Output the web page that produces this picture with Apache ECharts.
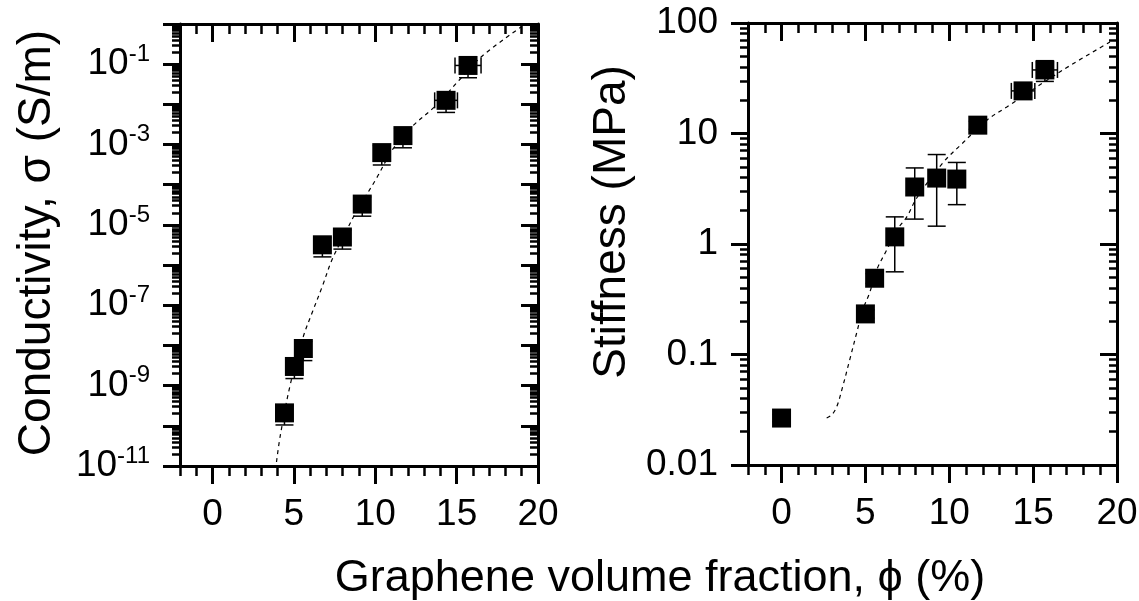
<!DOCTYPE html>
<html>
<head>
<meta charset="utf-8">
<script src="https://cdn.jsdelivr.net/npm/echarts@6/dist/echarts.min.js"></script>
<style>
  html, body { margin: 0; padding: 0; background: #fff; }
  #chart { width: 1139px; height: 601px; }
</style>
</head>
<body>
<div id="chart"></div>
<script>
// left panel: conductivity vs graphene fraction
const condPhi = [4.42, 5.03, 5.58, 6.75, 7.98, 9.2, 10.4, 11.7, 14.35, 15.7]
const condSigma = [2.1e-10, 3.0e-9, 8.4e-9, 3.2e-6, 5.0e-6, 3.3e-5, 6.3e-4, 1.67e-3, 1.26e-2, 9.3e-2]
const condPhiErr = [0.25, 0.25, 0.25, 0.3, 0.3, 0.3, 0.3, 0.4, 0.7, 0.8]
const condSigmaErr = [1.05e-10, 1.5e-9, 4.2e-9, 1.6e-6, 2.5e-6, 1.65e-5, 3.2e-4, 8.4e-4, 6.3e-3, 4.7e-2]
const condFitPhi = [3.93, 4.17, 4.79, 5.58, 6.13, 6.75, 7.36, 8.28, 8.83, 10.06, 11.1, 12.27, 13.74, 15.15, 16.56, 18.96]
const condFitSigma = [1.26e-11, 5.96e-11, 1.12e-9, 1.68e-8, 6.68e-8, 2.99e-7, 1.41e-6, 7.94e-6, 2.11e-5, 1.41e-4, 7.9e-4, 2.82e-3, 9.44e-3, 3.98e-2, 0.158, 0.841]

// right panel: stiffness vs graphene fraction
const stiffPhi = [0, 5.0, 5.55, 6.75, 7.94, 9.25, 10.45, 11.7, 14.4, 15.7]
const stiffMod = [0.0266, 0.233, 0.49, 1.16, 3.28, 3.95, 3.87, 11.9, 24.3, 37.6]
const stiffPhiErr = [0.1, 0.2, 0.2, 0.2, 0.2, 0.2, 0.2, 0.3, 0.7, 0.75]
const stiffModErr = [0.002, 0.02, 0.05, 0.6, 1.6, 2.5, 1.6, 1.0, 3.0, 8.0]
const stiffFitPhi = [2.69, 3.0, 3.3, 3.64, 4.06, 4.48, 4.84, 5.25, 5.67, 6.27, 6.87, 7.46, 8.06, 9.61, 10.8, 12.24, 13.43, 16.78, 19.58]
const stiffFitMod = [0.0266, 0.0285, 0.034, 0.0508, 0.0891, 0.157, 0.253, 0.361, 0.582, 0.883, 1.34, 1.75, 2.61, 5.41, 8.2, 13.2, 17.4, 37.6, 67.3]

// ticks
const phiMajor = [0, 5, 10, 15, 20]
const phiMinor = [-2, -1, 1, 2, 3, 4, 6, 7, 8, 9, 11, 12, 13, 14, 16, 17, 18, 19]
const condDecades = [-11, -10, -9, -8, -7, -6, -5, -4, -3, -2, -1, 0]
const condLabelExps = [-11, -9, -7, -5, -3, -1]
const stiffTicks = [0.01, 0.1, 1, 10, 100]
const stiffTickLabels = ['0.01', '0.1', '1', '10', '100']

const FONT = 'Liberation Sans, Arial, sans-serif'

const condMajor = condDecades.map((e) => Math.pow(10, e))
const condLabelVals = condLabelExps.map((e) => Math.pow(10, e))
const logMinor = (decades) => {
  const out = []
  decades.slice(0, -1).forEach((e) => {
    for (let m = 2; m <= 9; m++) out.push(m * Math.pow(10, e))
  })
  return out
}
const condMinor = logMinor(condDecades)
const stiffMinor = logMinor(stiffTicks.map((v) => Math.round(Math.log10(v))))

const tick = (len, width, inside, values) => ({
  show: true,
  inside,
  length: len,
  customValues: values,
  lineStyle: { color: '#000', width }
})

function xAxes(gridIndex) {
  const base = {
    gridIndex,
    type: 'value',
    min: -2,
    max: 20,
    splitLine: { show: false },
    axisLine: { show: false, onZero: false }
  }
  return [
    {
      ...base,
      position: 'bottom',
      axisLine: { show: true, onZero: false, lineStyle: { color: '#000', width: 3 } },
      axisTick: tick(18, 3, false, phiMajor),
      axisLabel: { show: true, customValues: phiMajor, margin: 30, color: '#000', fontFamily: FONT, fontSize: 37 }
    },
    { ...base, position: 'bottom', axisTick: tick(10, 2.5, false, phiMinor), axisLabel: { show: false } },
    {
      ...base,
      position: 'top',
      axisLine: { show: true, onZero: false, lineStyle: { color: '#000', width: 3 } },
      axisTick: tick(18, 3, true, phiMajor),
      axisLabel: { show: false }
    },
    { ...base, position: 'top', axisTick: tick(10, 2.5, true, phiMinor), axisLabel: { show: false } }
  ]
}

function yAxes(gridIndex, min, max, major, minor, labelVals, formatter, rich) {
  const base = {
    gridIndex,
    type: 'log',
    logBase: 10,
    min,
    max,
    splitLine: { show: false },
    axisLine: { show: false, onZero: false }
  }
  return [
    {
      ...base,
      position: 'left',
      axisLine: { show: true, onZero: false, lineStyle: { color: '#000', width: 3 } },
      axisTick: tick(17, 3, false, major),
      axisLabel: { show: true, customValues: labelVals, formatter, rich, margin: 30, color: '#000', fontFamily: FONT, fontSize: 37 }
    },
    { ...base, position: 'left', axisTick: tick(8, 2.5, false, minor), axisLabel: { show: false } },
    {
      ...base,
      position: 'right',
      axisLine: { show: true, onZero: false, lineStyle: { color: '#000', width: 3 } },
      axisTick: tick(17, 3, true, major),
      axisLabel: { show: false }
    },
    { ...base, position: 'right', axisTick: tick(8, 2.5, true, minor), axisLabel: { show: false } }
  ]
}

const condFormatter = (v) => '{b|10}{s|' + Math.round(Math.log10(v)) + '}'
const condRich = {
  b: { fontFamily: FONT, fontSize: 37, color: '#000', lineHeight: 44 },
  s: { fontFamily: FONT, fontSize: 24, color: '#000', verticalAlign: 'top', lineHeight: 30 }
}
const stiffFormatter = (v) => {
  let best = 0
  stiffTicks.forEach((t, i) => {
    if (Math.abs(Math.log10(t) - Math.log10(v)) < Math.abs(Math.log10(stiffTicks[best]) - Math.log10(v))) best = i
  })
  return stiffTickLabels[best]
}

const errorBars = (phi, val, phiErr, valErr, xIdx, yIdx) => ({
  type: 'custom',
  xAxisIndex: xIdx,
  yAxisIndex: yIdx,
  z: 2,
  data: phi.map((p, i) => [p, val[i], phiErr[i], valErr[i]]),
  renderItem: (params, api) => {
    const x = api.value(0)
    const y = api.value(1)
    const xe = api.value(2)
    const ye = api.value(3)
    const lo = api.coord([x, y - ye])
    const hi = api.coord([x, y + ye])
    const le = api.coord([x - xe, y])
    const ri = api.coord([x + xe, y])
    const style = { stroke: '#000', lineWidth: 1.5, fill: null }
    const cap = 9
    const seg = (x1, y1, x2, y2) => ({ type: 'line', shape: { x1, y1, x2, y2 }, style })
    return {
      type: 'group',
      children: [
        seg(lo[0], lo[1], hi[0], hi[1]),
        seg(lo[0] - cap, lo[1], lo[0] + cap, lo[1]),
        seg(hi[0] - cap, hi[1], hi[0] + cap, hi[1]),
        seg(le[0], le[1], ri[0], ri[1]),
        seg(le[0], le[1] - 8, le[0], le[1] + 8),
        seg(ri[0], ri[1] - 8, ri[0], ri[1] + 8)
      ]
    }
  }
})

const fitLine = (phi, val, xIdx, yIdx) => ({
  type: 'line',
  xAxisIndex: xIdx,
  yAxisIndex: yIdx,
  smooth: 0.35,
  symbol: 'none',
  z: 1,
  lineStyle: { color: '#000', width: 1.2, type: [4, 4] },
  data: phi.map((p, i) => [p, val[i]])
})

const squares = (phi, val, xIdx, yIdx) => ({
  type: 'scatter',
  xAxisIndex: xIdx,
  yAxisIndex: yIdx,
  symbol: 'rect',
  symbolSize: 19,
  z: 3,
  itemStyle: { color: '#000', opacity: 1 },
  data: phi.map((p, i) => [p, val[i]])
})

const myChart = echarts.init(document.getElementById('chart'))
const option = {
  backgroundColor: '#fff',
  animation: false,
  grid: [
    { left: 180, top: 24, width: 358, height: 442, outerBoundsMode: 'none' },
    { left: 748, top: 23, width: 369, height: 442, outerBoundsMode: 'none' }
  ],
  xAxis: [...xAxes(0), ...xAxes(1)],
  yAxis: [
    ...yAxes(0, 1e-11, 1, condMajor, condMinor, condLabelVals, condFormatter, condRich),
    ...yAxes(1, 0.01, 100, stiffTicks, stiffMinor, stiffTicks, stiffFormatter, undefined)
  ],
  graphic: [
    {
      type: 'text',
      x: 37,
      y: 243,
      rotation: Math.PI / 2,
      style: { text: 'Conductivity, σ (S/m)', font: '46px ' + FONT, fill: '#000', textAlign: 'center', textVerticalAlign: 'middle' }
    },
    {
      type: 'text',
      x: 612,
      y: 222,
      rotation: Math.PI / 2,
      style: { text: 'Stiffness (MPa)', font: '46px ' + FONT, fill: '#000', textAlign: 'center', textVerticalAlign: 'middle' }
    },
    {
      type: 'text',
      x: 660,
      y: 579,
      style: { text: 'Graphene volume fraction, ϕ (%)', font: '45px ' + FONT, fill: '#000', textAlign: 'center', textVerticalAlign: 'middle' }
    }
  ],
  series: [
    fitLine(condFitPhi, condFitSigma, 0, 0),
    errorBars(condPhi, condSigma, condPhiErr, condSigmaErr, 0, 0),
    squares(condPhi, condSigma, 0, 0),
    fitLine(stiffFitPhi, stiffFitMod, 4, 4),
    errorBars(stiffPhi, stiffMod, stiffPhiErr, stiffModErr, 4, 4),
    squares(stiffPhi, stiffMod, 4, 4)
  ]
}
myChart.setOption(option)
window.addEventListener('resize', () => myChart.resize())
</script>
</body>
</html>
